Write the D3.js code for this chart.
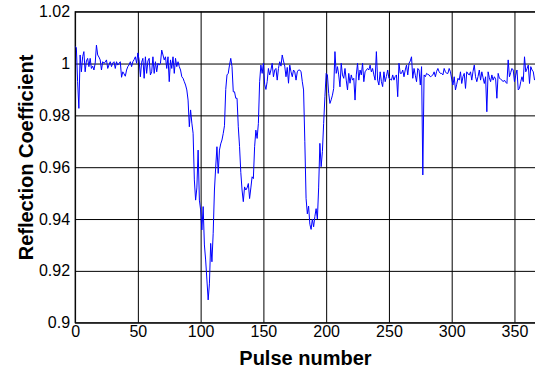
<!DOCTYPE html>
<html>
<head>
<meta charset="utf-8">
<script src="https://cdn.jsdelivr.net/npm/d3@7"></script>
<style>
  body { margin: 0; background: #fff; }
</style>
</head>
<body>
<div id="chart"></div>
<script>

// reflection coefficient per pulse (index = pulse number)
var reflection = [
  1.0065, 1.0062, 0.9930, 0.9827, 1.0033, 0.9968, 1.0026, 1.0046, 0.9968, 1.0010,
  1.0020, 0.9988, 1.0020, 0.9981, 0.9990, 0.9975, 1.0001, 1.0071, 1.0033, 1.0025,
  1.0014, 0.9975, 1.0007, 1.0001, 1.0005, 1.0014, 0.9981, 0.9995, 1.0007, 0.9988,
  1.0002, 1.0007, 0.9981, 1.0007, 0.9994, 1.0001, 1.0007, 0.9947, 0.9968, 0.9960,
  0.9951, 0.9975, 0.9988, 0.9995, 1.0007, 0.9988, 1.0007, 1.0015, 1.0026, 1.0001,
  1.0041, 1.0014, 0.9949, 1.0005, 1.0020, 0.9943, 1.0026, 0.9962, 1.0010, 1.0020,
  0.9956, 0.9968, 1.0026, 0.9962, 1.0007, 0.9968, 1.0001, 0.9994, 1.0001, 1.0052,
  1.0033, 1.0014, 1.0026, 0.9981, 1.0026, 0.9930, 1.0014, 0.9981, 1.0026, 0.9962,
  1.0020, 0.9988, 1.0007, 0.9988, 0.9975, 0.9949, 0.9943, 0.9930, 0.9917, 0.9898,
  0.9859, 0.9756, 0.9821, 0.9770, 0.9731, 0.9551, 0.9473, 0.9520, 0.9666, 0.9473,
  0.9435, 0.9358, 0.9448, 0.9300, 0.9242, 0.9165, 0.9088, 0.9150, 0.9306, 0.9235,
  0.9345, 0.9512, 0.9600, 0.9679, 0.9576, 0.9666, 0.9690, 0.9705, 0.9730, 0.9760,
  0.9900, 0.9956, 0.9962, 0.9994, 1.0020, 0.9988, 0.9891, 0.9891, 0.9866, 0.9866,
  0.9756, 0.9680, 0.9580, 0.9512, 0.9467, 0.9524, 0.9512, 0.9520, 0.9537, 0.9479,
  0.9520, 0.9563, 0.9556, 0.9679, 0.9743, 0.9711, 0.9769, 0.9930, 0.9994, 0.9962,
  1.0001, 0.9920, 0.9900, 0.9930, 0.9981, 0.9956, 0.9975, 1.0001, 0.9949, 0.9975,
  0.9981, 0.9936, 0.9981, 1.0007, 0.9990, 1.0033, 1.0010, 0.9990, 0.9949, 0.9985,
  0.9924, 0.9994, 0.9968, 0.9949, 0.9975, 0.9968, 0.9936, 0.9968, 0.9975, 0.9975,
  0.9968, 0.9930, 0.9898, 0.9700, 0.9480, 0.9420, 0.9450, 0.9380, 0.9360, 0.9400,
  0.9370, 0.9410, 0.9440, 0.9400, 0.9520, 0.9692, 0.9602, 0.9660, 0.9769, 0.9872,
  0.9962, 0.9956, 0.9885, 0.9846, 0.9860, 0.9878, 0.9904, 1.0046, 0.9962, 0.9988,
  0.9956, 0.9910, 1.0001, 0.9956, 0.9943, 0.9981, 0.9936, 0.9898, 0.9962, 0.9924,
  0.9956, 0.9936, 0.9943, 0.9859, 0.9956, 1.0001, 0.9936, 0.9975, 0.9956, 1.0001,
  0.9930, 0.9968, 0.9975, 0.9981, 0.9975, 0.9994, 0.9968, 0.9981, 0.9956, 0.9936,
  1.0046, 0.9936, 0.9917, 0.9968, 0.9930, 0.9911, 0.9968, 0.9930, 0.9950, 0.9975,
  0.9943, 0.9940, 0.9936, 0.9956, 0.9936, 0.9950, 0.9956, 0.9872, 1.0001, 0.9962,
  0.9962, 0.9975, 0.9949, 0.9975, 0.9994, 0.9956, 1.0001, 1.0010, 1.0026, 0.9943,
  0.9981, 0.9955, 0.9930, 0.9981, 0.9975, 0.9917, 0.9988, 0.9570, 0.9956, 0.9949,
  0.9962, 0.9958, 0.9956, 0.9949, 0.9952, 0.9956, 0.9968, 0.9949, 0.9970, 0.9981,
  0.9968, 0.9962, 0.9962, 0.9956, 0.9981, 0.9968, 0.9962, 0.9962, 0.9981, 0.9968,
  0.9940, 0.9917, 0.9949, 0.9898, 0.9920, 0.9943, 0.9936, 0.9968, 0.9923, 0.9950,
  0.9962, 0.9904, 0.9968, 0.9960, 0.9956, 0.9968, 0.9936, 0.9970, 0.9994, 0.9949,
  0.9930, 0.9950, 0.9975, 0.9936, 0.9968, 0.9945, 0.9923, 0.9949, 0.9814, 0.9968,
  0.9945, 0.9930, 0.9956, 0.9936, 0.9949, 0.9940, 0.9866, 0.9962, 0.9943, 0.9940,
  0.9936, 0.9930, 0.9936, 0.9928, 0.9923, 1.0014, 0.9949, 0.9965, 0.9981, 0.9975,
  0.9930, 0.9955, 0.9975, 0.9898, 0.9904, 0.9930, 0.9949, 0.9930, 1.0026, 0.9968,
  0.9980, 0.9994, 0.9923, 0.9988, 0.9975, 0.9968, 0.9936
];

var xTicks = [0, 50, 100, 150, 200, 250, 300, 350];
var yTicks = [0.9, 0.92, 0.94, 0.96, 0.98, 1, 1.02];

// axis limits
var xLimits = [0, 367];
var yLimits = [0.9, 1.02];

// set the dimensions and margins of the graph
var margin = {top: 11.7, left: 75.1},
    width = 460.7,
    height = 311;

var svg = d3.select("#chart")
  .append("svg")
    .attr("width", 535)
    .attr("height", 371)
    .style("display", "block");

var g = svg.append("g")
  .attr("transform", "translate(" + margin.left + "," + margin.top + ")");

var x = d3.scaleLinear().domain(xLimits).range([0, width]);
var y = d3.scaleLinear().domain(yLimits).range([height, 0]);

// X axis + vertical grid
var xAxis = g.append("g")
  .attr("transform", "translate(0," + height + ")")
  .call(d3.axisBottom(x)
    .tickValues(xTicks)
    .tickSize(-height)
    .tickPadding(3)
    .tickFormat(function (d) { return d; }));

// Y axis + horizontal grid
var yAxis = g.append("g")
  .call(d3.axisLeft(y)
    .tickValues(yTicks)
    .tickSize(-width)
    .tickPadding(5)
    .tickFormat(function (d) { return d; }));

[xAxis, yAxis].forEach(function (a) {
  a.select(".domain").remove();
  a.selectAll("line").attr("stroke", "#000").attr("stroke-width", 1);
  a.selectAll("text")
    .attr("fill", "#000")
    .style("font-family", "'Liberation Sans', Arial, sans-serif")
    .style("font-size", "16px");
});

// axes box
g.append("rect")
  .attr("x", 0)
  .attr("y", 0)
  .attr("width", width)
  .attr("height", height)
  .attr("fill", "none")
  .attr("stroke", "#000")
  .attr("stroke-width", 1);

// data line
var line = d3.line()
  .x(function (d, i) { return x(i); })
  .y(function (d) { return y(d); });

g.append("path")
  .datum(reflection)
  .attr("d", line)
  .attr("fill", "none")
  .attr("stroke", "#0000ff")
  .attr("stroke-width", 1);

// X label
svg.append("text")
  .attr("x", margin.left + width / 2)
  .attr("y", 364.5)
  .attr("text-anchor", "middle")
  .style("font-family", "'Liberation Sans', Arial, sans-serif")
  .style("font-size", "20px")
  .style("font-weight", "bold")
  .text("Pulse number");

// Y label
svg.append("text")
  .attr("text-anchor", "middle")
  .attr("transform", "translate(33,157.5)rotate(-90)")
  .style("font-family", "'Liberation Sans', Arial, sans-serif")
  .style("font-size", "20px")
  .style("font-weight", "bold")
  .text("Reflection Coefficient");

</script>
</body>
</html>
